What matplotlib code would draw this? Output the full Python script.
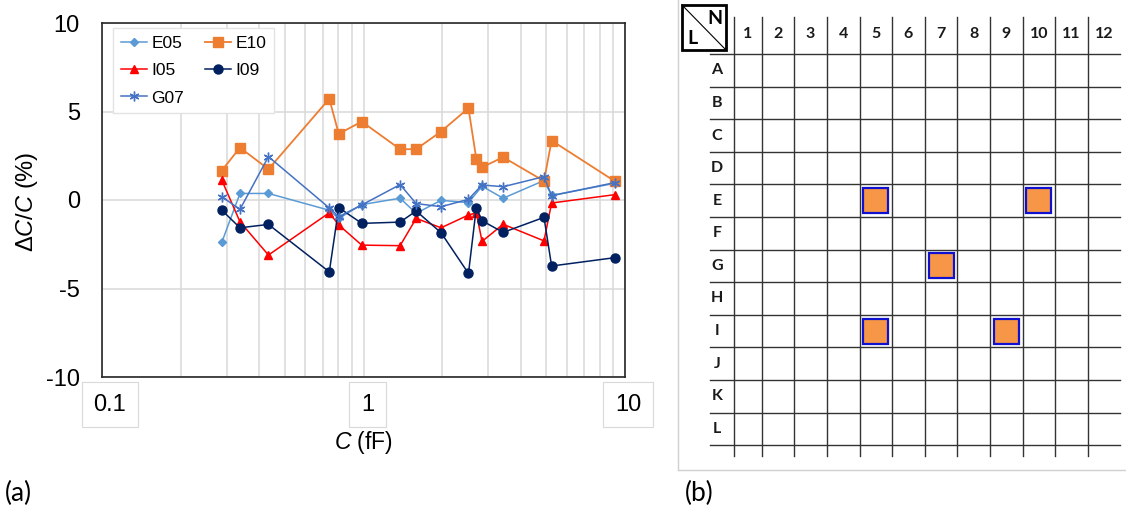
import numpy as np
import matplotlib.pyplot as plt
from matplotlib.patches import Rectangle
from matplotlib.lines import Line2D
from matplotlib.ticker import LogLocator, NullFormatter
from matplotlib.transforms import ScaledTranslation

plt.rcParams['font.family'] = ['Liberation Sans', 'DejaVu Sans']
plt.rcParams['mathtext.fontset'] = 'custom'
plt.rcParams['mathtext.rm'] = 'Liberation Sans'
plt.rcParams['mathtext.it'] = 'Liberation Sans:italic'
plt.rcParams['axes.unicode_minus'] = False

# capacitance (fF) of the measured structures
c_all = [0.287, 0.337, 0.433, 0.74, 0.804, 0.985, 1.38, 1.59, 1.98, 2.52, 2.70, 2.84, 3.42, 4.90, 5.24, 9.12]
c_eg = [0.287, 0.337, 0.433, 0.74, 0.804, 0.985, 1.38, 1.59, 1.98, 2.52, 2.84, 3.42, 4.90, 5.24, 9.12]

# deviation dC/C (%) per chip position
e05 = [-2.40, 0.37, 0.37, -0.58, -1.04, -0.26, 0.10, -0.75, -0.02, -0.15, 0.78, 0.10, 1.10, 0.26, 0.94]
e10 = [1.66, 2.96, 1.74, 5.72, 3.74, 4.43, 2.87, 2.87, 3.87, 5.19, 2.32, 1.85, 2.42, 1.07, 3.36, 1.07]
i05 = [1.13, -1.23, -3.11, -0.72, -1.41, -2.55, -2.58, -1.04, -1.57, -0.85, -0.72, -2.34, -1.37, -2.31, -0.17, 0.30]
i09 = [-0.57, -1.57, -1.38, -4.06, -0.43, -1.32, -1.25, -0.62, -1.85, -4.15, -0.43, -1.17, -1.83, -0.98, -3.73, -3.26]
g07 = [0.19, -0.53, 2.45, -0.45, -0.94, -0.28, 0.87, -0.20, -0.38, 0.04, 0.85, 0.75, 1.32, 0.24, 0.98]

# grid of chip positions
row_names = list('ABCDEFGHIJKL')
col_names = [str(i) for i in range(1, 13)]

series = [
    ('E05', c_eg, e05, '#5B9BD5', 'D', 4.5),
    ('E10', c_all, e10, '#ED7D31', 's', 6.5),
    ('I05', c_all, i05, '#FF0000', '^', 6),
    ('I09', c_all, i09, '#002060', 'o', 6.5),
    ('G07', c_eg, g07, '#4472C4', (6, 2, 0), 7),
]

W, H = 1126, 508
fig = plt.figure(figsize=(W / 100, H / 100), dpi=100)

# ---- (a) deviation vs capacitance ----
ax = fig.add_axes([102 / W, 1 - 377 / H, (625 - 102) / W, (377 - 23) / H])
lines = {}
for name, xs, ys, col, mk, ms in series:
    lw = 1.3 if name == 'E10' else 1.1
    ln, = ax.plot(xs, ys, color=col, marker=mk, ms=ms, lw=lw,
                  mec=col, mfc=col, mew=1.0, label=name, zorder=3)
    lines[name] = ln

ax.set_xscale('log')
ax.set_xlim(0.1, 10)
ax.set_ylim(-10, 10)
ax.set_xticks([0.1, 1, 10])
ax.set_xticklabels(['0.1', '1', '10'])
ax.xaxis.set_minor_locator(LogLocator(base=10, subs=np.arange(2, 10)))
ax.xaxis.set_minor_formatter(NullFormatter())
ax.set_yticks([-10, -5, 0, 5, 10])
ax.grid(which='both', axis='x', color='#D9D9D9', lw=1.1, zorder=0)
ax.grid(which='major', axis='y', color='#D9D9D9', lw=1.1, zorder=0)
ax.set_axisbelow(True)
ax.tick_params(which='both', length=0)
ax.tick_params(axis='y', labelsize=17, pad=16)
ax.tick_params(axis='x', labelsize=17, pad=12)
# the boxed x labels sit a little right of their gridlines
for tick, dx in zip(ax.xaxis.get_major_ticks(), [8, 4, 3]):
    lbl = tick.label1
    lbl.set_transform(lbl.get_transform() + ScaledTranslation(dx / 100, 0, fig.dpi_scale_trans))
    lbl.set_bbox(dict(facecolor='white', edgecolor='#D9D9D9', lw=0.8,
                      boxstyle='square,pad=0.5'))
for sp in ax.spines.values():
    sp.set_color('#262626')
    sp.set_linewidth(1.2)

ax.set_xlabel(r'$\mathit{C}$ (fF)', fontsize=16.5)
ax.xaxis.set_label_coords(0.5, (377 - 442) / 354)
ax.xaxis.label.set_va('center')
ax.set_ylabel(r'Δ$\mathit{C}$/$\mathit{C}$ (%)', fontsize=17)
ax.yaxis.set_label_coords((27 - 102) / 523, (377 - 202) / 354)
ax.yaxis.label.set_va('center')

order = ['E05', 'I05', 'G07', 'E10', 'I09']
ax.legend([lines[n] for n in order], order, ncol=2, loc='upper left',
          bbox_to_anchor=(0.021, 0.986), borderaxespad=0, fontsize=12.5,
          frameon=True, fancybox=False, edgecolor='#E3E3E3', framealpha=1,
          handlelength=1.5, handletextpad=0.25, columnspacing=1.2,
          labelspacing=0.7, borderpad=0.45)

# ---- (b) chip map ----
axg = fig.add_axes([0, 0, 1, 1])
axg.set_xlim(0, W)
axg.set_ylim(H, 0)
axg.axis('off')

col_edges = np.concatenate([[734.0], 761.7 + 32.6 * np.arange(12)])
row_edges = 54.0 + 32.6 * np.arange(13)
col_mid = (col_edges[:-1] + col_edges[1:]) / 2
row_mid = (row_edges[:-1] + row_edges[1:]) / 2

gc = '#333333'
for x in col_edges[:-1]:
    axg.add_line(Line2D([x, x], [17, 456], color=gc, lw=1.0))
for y in row_edges:
    axg.add_line(Line2D([710, 1120], [y, y], color=gc, lw=1.0))

lab = dict(family=['Lato', 'DejaVu Sans'], fontweight='bold', fontsize=11.5,
           ha='center', va='center', color='#1A1A1A')
for i, c in enumerate(col_names):
    axg.text(col_mid[i], 34, c, **lab)
for j, r in enumerate(row_names):
    axg.text(717, row_mid[j], r, **lab)

# corner box
axg.add_patch(Rectangle((682, 5), 44, 45, fill=False, ec='black', lw=2.0))
axg.add_line(Line2D([682, 726], [5, 50], color='black', lw=0.8))
axg.text(715, 18, 'N', family=['Lato', 'DejaVu Sans'], fontweight='bold',
         fontsize=14, ha='center', va='center')
axg.text(692, 39, 'L', family=['Lato', 'DejaVu Sans'], fontweight='bold',
         fontsize=14, ha='center', va='center')

# highlighted positions, taken from the series names
sq = 25
for name, *_ in series:
    r = row_names.index(name[0])
    c = int(name[1:]) - 1
    axg.add_patch(Rectangle((col_mid[c] - sq / 2, row_mid[r] - sq / 2), sq, sq,
                            fc='#F79646', ec='#1010D0', lw=1.6, zorder=4))

# panel frame
axg.add_line(Line2D([678, 678], [0, 470], color='#D0D0D0', lw=1.0))
axg.add_line(Line2D([678, W], [470, 470], color='#D0D0D0', lw=1.0))

fig.text(5 / W, 1 - 493 / H, '(a)', family=['Lato', 'DejaVu Sans'],
         fontsize=19, ha='left', va='center')
fig.text(685 / W, 1 - 493 / H, '(b)', family=['Lato', 'DejaVu Sans'],
         fontsize=19, ha='left', va='center')

fig.savefig('out.png', dpi=100)
